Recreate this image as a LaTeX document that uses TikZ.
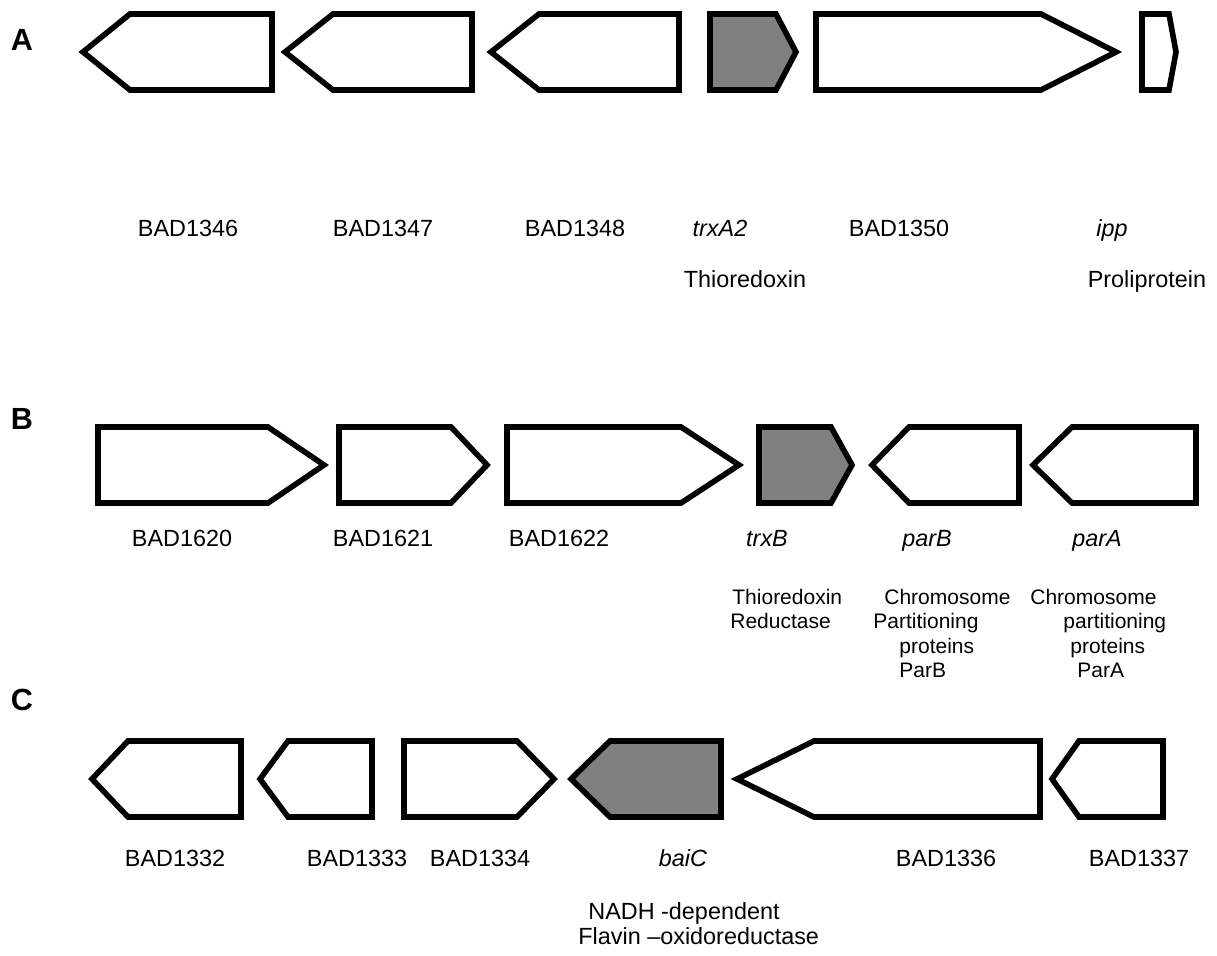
\documentclass[tikz,border=0pt]{standalone}
\usepackage{fontspec}
\setmainfont{Liberation Sans}
\usepackage{tikz}
\tikzset{
  gene/.style={line width=2.8pt, line join=miter, miter limit=10},
  lbl/.style={font=\fontsize{11.7}{14}\selectfont, inner sep=0pt, anchor=base},
  note/.style={font=\fontsize{10.5}{12}\selectfont, inner sep=0pt, anchor=base west},
  panel/.style={font=\fontsize{15.3}{18}\selectfont\bfseries, inner sep=0pt, anchor=base}
}
% gene pointing right: [fill]{left}{shoulder}{tip}{middle}
\newcommand{\genefwd}[5][white]{%
  \filldraw[gene,fill=#1] (#2,#5-38)--(#3,#5-38)--(#4,#5)--(#3,#5+38)--(#2,#5+38)--cycle;%
}
% gene pointing left: [fill]{tip}{shoulder}{right}{middle}
\newcommand{\generev}[5][white]{%
  \filldraw[gene,fill=#1] (#2,#5)--(#3,#5-38)--(#4,#5-38)--(#4,#5+38)--(#3,#5+38)--cycle;%
}

\begin{document}
\begin{tikzpicture}[x=0.5pt,y=-0.5pt]
  \useasboundingbox (0,0) rectangle (1217,956);
  % panel A
  \node[panel] (pA) at (22,51) {A};
  \generev{83}{130}{272}{52}
  \generev{285}{333}{472}{52}
  \generev{491}{539}{679}{52}
  \genefwd[gray]{710}{776}{796}{52}
  \genefwd{816}{1041}{1116}{52}
  \genefwd{1142}{1169}{1176}{52}
  \foreach \x/\n in {188/1346, 383/1347, 575/1348, 899/1350}
    \node[lbl] (t\n) at (\x,237) {BAD\n};
  \node[lbl] (trxA) at (720,237) {\textit{trxA2}};
  \node[lbl] (ipp) at (1112,237) {\textit{ipp}};
  \node[lbl] (trxAf) at (745,288) {Thioredoxin};
  \node[lbl] (ippf) at (1147,288) {Proliprotein};

  % panel B
  \node[panel] (pB) at (22,430) {B};
  \genefwd{98}{268}{324}{465}
  \genefwd{339}{451}{487}{465}
  \genefwd{507}{681}{739}{465}
  \genefwd[gray]{759}{831}{852}{465}
  \generev{872}{909}{1019}{465}
  \generev{1033}{1072}{1196}{465}
  \foreach \x/\n in {182/1620, 383/1621, 559/1622}
    \node[lbl] (t\n) at (\x,547) {BAD\n};
  \node[lbl] (trxB) at (767,547) {\textit{trxB}};
  \node[lbl] (parB) at (927,547) {\textit{parB}};
  \node[lbl] (parA) at (1097,547) {\textit{parA}};
  \node[note] (trxB1) at (732,605) {Thioredoxin};
  \node[note] (trxB2) at (730,629) {Reductase};
  \node[note] (parB1) at (884,605) {Chromosome};
  \node[note] (parB2) at (873,629) {Partitioning};
  \node[note] (parB3) at (899,654) {proteins};
  \node[note] (parB4) at (899,678) {ParB};
  \node[note] (parA1) at (1030,605) {Chromosome};
  \node[note] (parA2) at (1063,629) {partitioning};
  \node[note] (parA3) at (1070,654) {proteins};
  \node[note] (parA4) at (1077,678) {ParA};

  % panel C
  \node[panel] (pC) at (22,711) {C};
  \generev{92}{128}{241}{779}
  \generev{260}{288}{372}{779}
  \genefwd{404}{517}{554}{779}
  \generev[gray]{571}{610}{721}{779}
  \generev{737}{814}{1040}{779}
  \generev{1052}{1079}{1163}{779}
  \foreach \x/\n in {175/1332, 357/1333, 480/1334, 946/1336, 1139/1337}
    \node[lbl] (t\n) at (\x,867) {BAD\n};
  \node[lbl] (baiC) at (683,867) {\textit{baiC}};
  \node[lbl,anchor=base west] (baiC1) at (588,920) {NADH -dependent};
  \node[lbl,anchor=base west] (baiC2) at (578,945) {Flavin –oxidoreductase};
\end{tikzpicture}
\end{document}
